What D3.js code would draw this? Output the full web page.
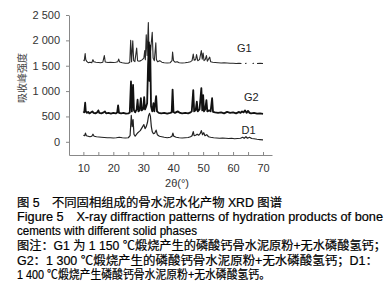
<!DOCTYPE html>
<html>
<head>
<meta charset="utf-8">
<script src="https://cdn.jsdelivr.net/npm/d3@7"></script>
<style>
  body { margin: 0; background: #fff; }
  text { font-family: "Liberation Sans", Arial, "Noto Sans CJK SC", sans-serif; }
</style>
</head>
<body>
<div id="chart"></div>
<script>
// series: [2theta, intensity], null = gap in trace
var g1 = [[10.0,1610],[10.3,1600],[10.6,1740],[10.8,1620],[11.2,1580],[11.6,1560],[12.2,1570],[12.8,1560],[13.2,1620],[13.5,1580],
  [14.2,1570],[15.0,1565],[15.8,1560],[16.5,1570],[17.0,1700],[17.3,1575],[18.2,1565],[19.0,1570],[20.0,1565],[20.8,1570],
  [21.5,1580],[21.8,1630],[22.1,1575],[23.0,1560],[24.0,1550],[25.0,1550],[25.5,1570],[25.8,2000],[26.1,1580],[26.5,1990],
  [26.8,1600],[27.2,1580],[27.8,1850],[28.1,1600],[28.6,1590],[29.2,1600],[29.7,1620],[30.2,1650],[30.5,1800],[30.7,1620],
  [31.0,2110],[31.3,1700],[31.7,2350],[31.9,1800],[32.1,1600],[32.2,1650],[32.6,1900],[33.0,2160],[33.3,1650],[33.7,1600],
  [34.2,1950],[34.4,1620],[34.8,1580],[35.5,1600],[36.2,1570],[37.0,1560],[38.0,1555],[39.0,1560],[39.6,1600],[39.8,1770],
  [40.1,1600],[40.6,1570],[41.3,1580],[42.0,1560],[43.0,1555],[44.0,1560],[45.0,1570],[45.8,1580],[46.3,1600],[46.7,1730],
  [47.0,1610],[47.5,1620],[47.8,1720],[48.2,1600],[48.8,1620],[49.4,1800],[49.7,1630],[50.0,1750],[50.3,1600],[50.7,1620],
  [51.1,1700],[51.4,1590],[52.2,1670],[52.5,1580],[53.2,1570],[54.0,1565],[55.0,1560],[56.0,1555],[57.0,1560],[58.0,1555],
  [59.0,1550],[60.0,1550],[61.0,1545],[62.0,1550],[62.8,1545],[63.0,null],[64.0,1545],[64.5,1550],[65.0,null],[66.5,1545],
  [67.0,1550],[67.5,null],[68.0,1545],[69.0,1550],[70.0,1545]];

var g2 = [[10.0,600],[10.3,580],[10.6,770],[10.8,600],[11.2,570],[11.6,590],[12.0,560],[12.5,580],[13.0,600],[13.4,570],
  [14.0,560],[14.6,580],[15.0,620],[15.3,570],[16.0,560],[16.8,580],[17.2,600],[17.6,560],[18.4,570],[19.2,555],
  [20.0,570],[20.8,560],[21.3,580],[21.6,720],[21.9,570],[22.6,560],[23.4,570],[24.2,555],[25.0,560],[25.5,580],
  [25.9,1190],[26.2,600],[26.6,1120],[26.9,620],[27.3,580],[27.8,640],[28.1,830],[28.4,600],[28.8,620],[29.2,860],
  [29.5,620],[30.0,650],[30.3,880],[30.6,640],[31.0,700],[31.3,760],[31.6,1500],[31.9,1960],[32.1,1200],[32.3,1900],
  [32.6,700],[33.0,600],[33.4,760],[33.7,600],[34.3,900],[34.6,600],[35.2,570],[36.0,560],[37.0,570],[38.0,555],
  [39.0,570],[39.5,580],[39.8,1030],[40.1,590],[40.6,570],[41.5,600],[42.3,570],[43.0,560],[44.0,570],[45.0,560],
  [45.8,580],[46.2,600],[46.7,1020],[47.0,600],[47.5,620],[47.9,790],[48.2,600],[48.8,640],[49.4,1060],[49.7,620],
  [50.0,920],[50.3,600],[50.7,640],[51.1,820],[51.4,600],[52.0,620],[52.5,600],[53.0,860],[53.3,590],[54.0,580],
  [55.0,570],[56.0,580],[57.0,560],[58.0,590],[59.0,570],[60.0,580],[61.0,560],[62.0,590],[62.5,570],[63.0,600],
  [63.5,580],[64.0,620],[64.5,570],[65.0,610],[65.5,570],[66.0,560],[67.0,570],[68.0,555],[69.0,560],[70.0,550]];

var d1 = [[10.0,130],[10.4,120],[10.7,170],[11.0,120],[11.6,110],[12.2,100],[12.8,110],[13.2,150],[13.6,110],[14.4,100],
  [15.2,95],[16.0,90],[17.0,85],[18.0,80],[19.0,80],[20.0,75],[21.0,80],[22.0,90],[23.0,80],[24.0,75],
  [25.0,80],[25.6,120],[26.0,520],[26.3,300],[26.6,440],[26.9,150],[27.3,110],[27.8,150],[28.2,180],[28.6,200],
  [29.0,220],[29.4,260],[29.8,300],[30.2,340],[30.6,260],[31.0,300],[31.4,380],[31.8,520],[32.1,560],[32.4,500],
  [32.7,300],[33.0,200],[33.4,160],[33.8,170],[34.3,230],[34.7,140],[35.4,110],[36.2,100],[37.0,90],[38.0,80],
  [39.0,90],[39.6,110],[39.9,170],[40.2,110],[41.0,90],[42.0,80],[43.0,75],[44.0,80],[45.0,85],[45.8,100],
  [46.3,120],[46.7,200],[47.0,120],[47.5,130],[48.0,150],[48.5,130],[49.0,160],[49.4,220],[49.8,140],[50.2,180],
  [50.6,120],[51.2,140],[51.8,100],[52.5,90],[53.5,80],[54.5,75],[55.5,70],[56.5,75],[57.5,70],[58.5,65],
  [59.5,70],[60.5,60],[61.5,65],[62.5,70],[63.2,90],[63.7,70],[64.3,100],[64.8,70],[65.5,90],[66.2,65],
  [67.0,60],[68.0,50],[69.0,45],[70.0,40]];

var seriesNames = ["G1", "G2", "D1"];
var yTicks = [0, 500, 1000, 1500, 2000, 2500];
var yTickLabels = ["0", "500", "1 000", "1 500", "2 000", "2 500"];
var xTicks = [10, 15, 20, 25, 30, 35, 40, 45, 50, 55, 60, 65, 70];
var xTickLabels = ["10", "", "20", "", "30", "", "40", "", "50", "", "60", "", "70"];
var yTitle = "吸收峰强度";
var xTitle = "2θ(°)";
var caption = [
  "图 5　不同固相组成的骨水泥水化产物 XRD 图谱",
  "Figure 5　X-ray diffraction patterns of hydration products of bone",
  "cements with different solid phases",
  "图注：G1 为 1 150 ℃煅烧产生的磷酸钙骨水泥原粉+无水磷酸氢钙；",
  "G2：1 300 ℃煅烧产生的磷酸钙骨水泥原粉+无水磷酸氢钙；D1：",
  "1 400 ℃煅烧产生磷酸钙骨水泥原粉+无水磷酸氢钙。"
];

var width = 389, height = 300;
var svg = d3.select('#chart').append('svg')
  .attr('width', width).attr('height', height);

var x = d3.scaleLinear().domain([5.2, 73]).range([69, 272]);
var y = d3.scaleLinear().domain([-260, 2500]).range([155, 15]);

// axes
var yAxis = svg.append('g').attr('transform', 'translate(69,0)')
  .call(d3.axisLeft(y).tickValues(yTicks)
    .tickFormat((d, i) => yTickLabels[i]).tickSize(3).tickPadding(6).tickSizeOuter(0));
var xAxis = svg.append('g').attr('transform', 'translate(0,155)')
  .call(d3.axisBottom(x).tickValues(xTicks)
    .tickFormat((d, i) => xTickLabels[i]).tickSize(-3).tickPadding(9).tickSizeOuter(0));

[yAxis, xAxis].forEach(function(g) {
  g.select('.domain').attr('stroke', '#888');
  g.selectAll('.tick line').attr('stroke', '#888');
  g.selectAll('.tick text').attr('fill', '#333').style('font-size', '11px');
});

// traces
var line = d3.line()
  .defined(d => d[1] !== null)
  .x(d => x(d[0]))
  .y(d => y(d[1]));

var traces = [
  { data: g1, w: 1.1, c: '#2a2a2a' },
  { data: g2, w: 1.8, c: '#111' },
  { data: d1, w: 1.2, c: '#222' }
];
svg.selectAll('path.trace').data(traces).enter().append('path')
  .attr('class', 'trace')
  .attr('fill', 'none')
  .attr('stroke', d => d.c)
  .attr('stroke-width', d => d.w)
  .attr('stroke-linejoin', 'round')
  .attr('d', d => line(d.data));

// series labels
var labelPos = [[237, 52], [244, 101], [241.5, 134]];
svg.selectAll('text.series').data(seriesNames).enter().append('text')
  .attr('class', 'series')
  .attr('x', (d, i) => labelPos[i][0])
  .attr('y', (d, i) => labelPos[i][1])
  .attr('fill', '#222')
  .style('font-size', '11px')
  .text(d => d);

// axis titles
svg.append('text')
  .attr('transform', 'translate(26,78) rotate(-90)')
  .attr('text-anchor', 'middle')
  .attr('fill', '#444')
  .style('font-size', '10px')
  .text(yTitle);
svg.append('text')
  .attr('x', 177).attr('y', 187)
  .attr('text-anchor', 'middle')
  .attr('fill', '#333')
  .style('font-size', '11px')
  .text(xTitle);

// caption
var capY = [207, 221, 234.5, 250, 264.5, 278.5];
var capLen = [265, 366, 180, 369, 361, 253];
svg.selectAll('text.cap').data(caption).enter().append('text')
  .attr('class', 'cap')
  .attr('x', 17)
  .attr('y', (d, i) => capY[i])
  .attr('textLength', (d, i) => capLen[i])
  .attr('lengthAdjust', 'spacingAndGlyphs')
  .attr('fill', '#000')
  .attr('stroke', '#000')
  .attr('stroke-width', 0.2)
  .style('font-size', '12px')
  .text(d => d);
</script>
</body>
</html>
